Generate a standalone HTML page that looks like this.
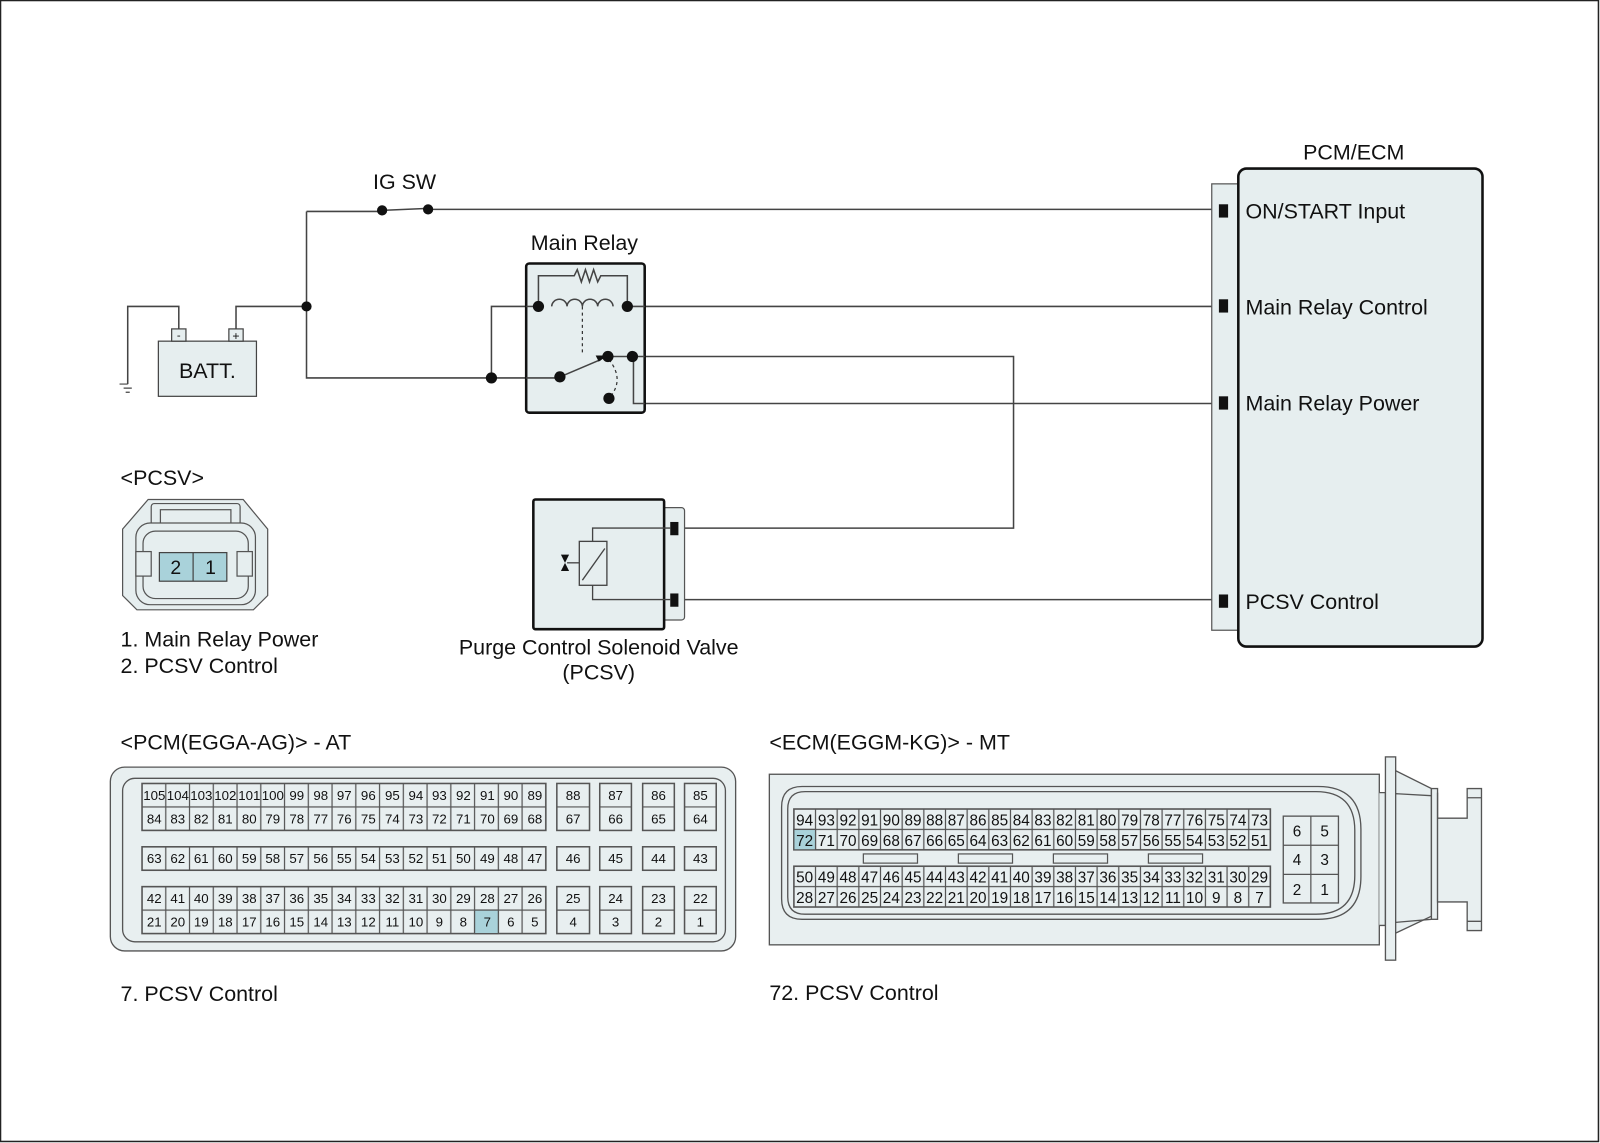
<!DOCTYPE html>
<html><head><meta charset="utf-8"><style>
html,body{margin:0;padding:0;background:#fff;}
svg{display:block;}
text{font-family:"Liberation Sans",sans-serif;fill:#111;}
.g text{font-size:13px;text-anchor:middle;}
.e text{font-size:15px;text-anchor:middle;}
</style></head><body>
<svg width="1600" height="1143" viewBox="0 0 1566 1119" preserveAspectRatio="none" xmlns="http://www.w3.org/2000/svg">
<defs>
<pattern id="p1" x="139" y="767" width="23.25" height="23" patternUnits="userSpaceOnUse"><rect x="0" y="0" width="23.25" height="23" fill="#e8eff0" stroke="#555" stroke-width="1.2"/></pattern>
<pattern id="p1b" x="139" y="829" width="23.25" height="23" patternUnits="userSpaceOnUse"><rect x="0" y="0" width="23.25" height="23" fill="#e8eff0" stroke="#555" stroke-width="1.2"/></pattern>
<pattern id="p1c" x="139" y="868" width="23.25" height="23" patternUnits="userSpaceOnUse"><rect x="0" y="0" width="23.25" height="23" fill="#e8eff0" stroke="#555" stroke-width="1.2"/></pattern>
<pattern id="p2" x="777" y="792" width="21.2" height="20" patternUnits="userSpaceOnUse"><rect x="0" y="0" width="21.2" height="20" fill="#e8eff0" stroke="#555" stroke-width="1.2"/></pattern>
<pattern id="p2b" x="777" y="848" width="21.2" height="20" patternUnits="userSpaceOnUse"><rect x="0" y="0" width="21.2" height="20" fill="#e8eff0" stroke="#555" stroke-width="1.2"/></pattern>
</defs>
<rect x="0.5" y="0.5" width="1564" height="1117" fill="#fff" stroke="#222" stroke-width="1.5"/>

<!-- wires -->
<g stroke="#444" stroke-width="1.5" fill="none">
<path d="M125 376 V300 H175 V322"/>
<path d="M231 322 V300 H300"/>
<path d="M300 207 V370 H548"/>
<path d="M300 207 H374"/>
<path d="M374 206 L419 204"/>
<path d="M419 205 H1198"/>
<path d="M481 370 V300 H614"/>
<path d="M614 300 H1198"/>
<path d="M595 349 H992 V517 H660"/>
<path d="M620 349 V395 H1198"/>
<path d="M664 587 H1198"/>
</g>
<path d="M125 376 h-8 M121 380 h8 M123 384 h4" stroke="#444" stroke-width="1.2"/>

<!-- relay box -->
<rect x="515" y="258" width="116" height="146" rx="3" fill="#e6eeef" stroke="#111" stroke-width="2.5"/>
<g stroke="#444" stroke-width="1.5" fill="none">
<path d="M527 300 V270 H562 l3 -6 l4 12 l4 -12 l4 12 l4 -12 l4 12 l3 -6 H614 V300"/>
<path d="M540 300 a7.5 7 0 0 1 15 0 a7.5 7 0 0 1 15 0 a7.5 7 0 0 1 15 0 a7.5 7 0 0 1 15 0"/>
<path d="M515 300 H527"/><path d="M614 300 H631"/>
<path d="M515 370 H548"/><path d="M548 369 L588 352"/>
<path d="M595 349 H631"/><path d="M620 349 V395 H631"/>
</g>
<path d="M570 300 V345" stroke="#333" stroke-width="1.2" stroke-dasharray="3,3" fill="none"/>
<path d="M596 352 Q612 372 596 390" stroke="#333" stroke-width="1.2" stroke-dasharray="3,3" fill="none"/>
<path d="M583 348 l12 0 l-9 6 z" fill="#111"/>
<g fill="#111">
<circle cx="300" cy="300" r="5"/><circle cx="374" cy="206" r="5"/><circle cx="419" cy="205" r="5"/>
<circle cx="481" cy="370" r="5.5"/><circle cx="548" cy="369" r="5.5"/><circle cx="527" cy="300" r="5.5"/><circle cx="614" cy="300" r="5.5"/>
<circle cx="595" cy="349" r="5.5"/><circle cx="619" cy="349" r="5.5"/><circle cx="596" cy="390" r="5.5"/>
</g>

<!-- battery -->
<rect x="155" y="334" width="96" height="54" fill="#e6eeef" stroke="#444" stroke-width="1.2"/>
<rect x="168" y="322" width="14" height="12" fill="#e6eeef" stroke="#444" stroke-width="1.2"/>
<rect x="224" y="322" width="14" height="12" fill="#e6eeef" stroke="#444" stroke-width="1.2"/>
<text x="175" y="332" font-size="11" text-anchor="middle">-</text>
<text x="231" y="333" font-size="12" text-anchor="middle">+</text>
<text x="203" y="370" font-size="21" text-anchor="middle">BATT.</text>

<text x="396" y="185" font-size="21" text-anchor="middle">IG SW</text>
<text x="572" y="245" font-size="21" text-anchor="middle">Main Relay</text>

<!-- PCM/ECM -->
<rect x="1186" y="180" width="30" height="437" fill="#e6eeef" stroke="#555" stroke-width="1.2"/>
<rect x="1212" y="165" width="239" height="468" rx="8" fill="#e6eeef" stroke="#111" stroke-width="2.5"/>
<g fill="#111"><rect x="1193" y="200" width="9" height="13"/><rect x="1193" y="293" width="9" height="13"/><rect x="1193" y="388" width="9" height="13"/><rect x="1193" y="582" width="9" height="13"/></g>
<text x="1325" y="156" font-size="21" text-anchor="middle">PCM/ECM</text>
<g font-size="21"><text x="1219" y="214">ON/START Input</text><text x="1219" y="308">Main Relay Control</text><text x="1219" y="402">Main Relay Power</text><text x="1219" y="596">PCSV Control</text></g>

<!-- PCSV valve -->
<rect x="646" y="497" width="24" height="110" rx="3" fill="#e6eeef" stroke="#555" stroke-width="1.2"/>
<rect x="522" y="489" width="128" height="127" rx="2" fill="#e6eeef" stroke="#111" stroke-width="2.5"/>
<g fill="#111"><rect x="656" y="511" width="8" height="13"/><rect x="656" y="581" width="8" height="13"/></g>
<g stroke="#444" stroke-width="1.3" fill="none">
<path d="M656 517 H580 V530"/><path d="M580 573 V587 H656"/>
<rect x="567" y="530" width="27" height="43" fill="#e6eeef"/><path d="M570 568 L592 537"/><path d="M555 551 H567"/>
</g>
<path d="M549 543 h8 l-4 8 z M549 559 h8 l-4 -8 z" fill="#111"/>
<text x="586" y="641" font-size="21" text-anchor="middle">Purge Control Solenoid Valve</text>
<text x="586" y="665" font-size="21" text-anchor="middle">(PCSV)</text>

<!-- PCSV connector -->
<text x="118" y="475" font-size="21">&lt;PCSV&gt;</text>
<path d="M145 489 H238 L262 518 V583 L248 597 H134 L120 583 V518 Z" fill="#e6eeef" stroke="#555" stroke-width="1.2"/>
<rect x="148" y="493" width="87" height="22" rx="3" fill="#e6eeef" stroke="#555" stroke-width="1.2"/>
<rect x="157" y="499" width="69" height="16" fill="#e6eeef" stroke="#555" stroke-width="1.2"/>
<rect x="133" y="512" width="117" height="80" rx="14" fill="#e6eeef" stroke="#555" stroke-width="1.2"/>
<rect x="140" y="520" width="103" height="66" rx="12" fill="#e6eeef" stroke="#555" stroke-width="1.2"/>
<rect x="133" y="540" width="15" height="24" fill="#e6eeef" stroke="#555" stroke-width="1.2"/>
<rect x="232" y="540" width="15" height="24" fill="#e6eeef" stroke="#555" stroke-width="1.2"/>
<rect x="156" y="541" width="66" height="28" fill="#a9d2da" stroke="#444" stroke-width="1.2"/>
<path d="M189 541 V569" stroke="#444" stroke-width="1.2"/>
<text x="172" y="562" font-size="19" text-anchor="middle">2</text><text x="206" y="562" font-size="19" text-anchor="middle">1</text>
<text x="118" y="633" font-size="21">1. Main Relay Power</text>
<text x="118" y="659" font-size="21">2. PCSV Control</text>

<!-- PCM connector -->
<text x="118" y="734" font-size="21">&lt;PCM(EGGA-AG)&gt; - AT</text>
<rect x="108" y="751" width="612" height="180" rx="14" fill="#e8eff0" stroke="#555" stroke-width="1.3"/>
<rect x="120" y="762" width="590" height="160" rx="12" fill="#e8eff0" stroke="#555" stroke-width="1.3"/>
<rect x="139" y="767" width="395.25" height="46" fill="url(#p1)" stroke="#555" stroke-width="1.5"/>
<rect x="139" y="829" width="395.25" height="23" fill="url(#p1b)" stroke="#555" stroke-width="1.5"/>
<rect x="139" y="868" width="395.25" height="46" fill="url(#p1c)" stroke="#555" stroke-width="1.5"/>
<rect x="464.5" y="891" width="23.25" height="23" fill="#a9d2da" stroke="#555" stroke-width="1.2"/>
<g fill="#e8eff0" stroke="#555" stroke-width="1.5">
<rect x="545" y="767" width="32" height="46"/><rect x="587" y="767" width="31" height="46"/><rect x="629" y="767" width="31" height="46"/><rect x="670" y="767" width="31" height="46"/>
<rect x="545" y="829" width="32" height="23"/><rect x="587" y="829" width="31" height="23"/><rect x="629" y="829" width="31" height="23"/><rect x="670" y="829" width="31" height="23"/>
<rect x="545" y="868" width="32" height="46"/><rect x="587" y="868" width="31" height="46"/><rect x="629" y="868" width="31" height="46"/><rect x="670" y="868" width="31" height="46"/>
</g>
<path d="M545 790H577M587 790H618M629 790H660M670 790H701M545 891H577M587 891H618M629 891H660M670 891H701" stroke="#555" stroke-width="1.2"/>
<g class="g">
<text x="151" y="783" font-size="11">105</text><text x="174" y="783" font-size="11">104</text><text x="197" y="783" font-size="11">103</text><text x="220.5" y="783" font-size="11">102</text><text x="244" y="783" font-size="11">101</text><text x="267" y="783" font-size="11">100</text>
<text x="290.5" y="783">99</text><text x="314" y="783">98</text><text x="337" y="783">97</text><text x="360.5" y="783">96</text><text x="384" y="783">95</text><text x="407" y="783">94</text><text x="430" y="783">93</text><text x="453.5" y="783">92</text><text x="477" y="783">91</text><text x="500" y="783">90</text><text x="523.5" y="783">89</text>
<text x="151" y="806">84</text><text x="174" y="806">83</text><text x="197" y="806">82</text><text x="220.5" y="806">81</text><text x="244" y="806">80</text><text x="267" y="806">79</text><text x="290.5" y="806">78</text><text x="314" y="806">77</text><text x="337" y="806">76</text><text x="360.5" y="806">75</text><text x="384" y="806">74</text><text x="407" y="806">73</text><text x="430" y="806">72</text><text x="453.5" y="806">71</text><text x="477" y="806">70</text><text x="500" y="806">69</text><text x="523.5" y="806">68</text>
<text x="151" y="845">63</text><text x="174" y="845">62</text><text x="197" y="845">61</text><text x="220.5" y="845">60</text><text x="244" y="845">59</text><text x="267" y="845">58</text><text x="290.5" y="845">57</text><text x="314" y="845">56</text><text x="337" y="845">55</text><text x="360.5" y="845">54</text><text x="384" y="845">53</text><text x="407" y="845">52</text><text x="430" y="845">51</text><text x="453.5" y="845">50</text><text x="477" y="845">49</text><text x="500" y="845">48</text><text x="523.5" y="845">47</text>
<text x="151" y="884">42</text><text x="174" y="884">41</text><text x="197" y="884">40</text><text x="220.5" y="884">39</text><text x="244" y="884">38</text><text x="267" y="884">37</text><text x="290.5" y="884">36</text><text x="314" y="884">35</text><text x="337" y="884">34</text><text x="360.5" y="884">33</text><text x="384" y="884">32</text><text x="407" y="884">31</text><text x="430" y="884">30</text><text x="453.5" y="884">29</text><text x="477" y="884">28</text><text x="500" y="884">27</text><text x="523.5" y="884">26</text>
<text x="151" y="907">21</text><text x="174" y="907">20</text><text x="197" y="907">19</text><text x="220.5" y="907">18</text><text x="244" y="907">17</text><text x="267" y="907">16</text><text x="290.5" y="907">15</text><text x="314" y="907">14</text><text x="337" y="907">13</text><text x="360.5" y="907">12</text><text x="384" y="907">11</text><text x="407" y="907">10</text><text x="430" y="907">9</text><text x="453.5" y="907">8</text><text x="477" y="907">7</text><text x="500" y="907">6</text><text x="523.5" y="907">5</text>
<text x="561" y="783">88</text><text x="602.5" y="783">87</text><text x="644.5" y="783">86</text><text x="685.5" y="783">85</text>
<text x="561" y="806">67</text><text x="602.5" y="806">66</text><text x="644.5" y="806">65</text><text x="685.5" y="806">64</text>
<text x="561" y="845">46</text><text x="602.5" y="845">45</text><text x="644.5" y="845">44</text><text x="685.5" y="845">43</text>
<text x="561" y="884">25</text><text x="602.5" y="884">24</text><text x="644.5" y="884">23</text><text x="685.5" y="884">22</text>
<text x="561" y="907">4</text><text x="602.5" y="907">3</text><text x="644.5" y="907">2</text><text x="685.5" y="907">1</text>
</g>
<text x="118" y="980" font-size="21">7. PCSV Control</text>

<!-- ECM connector -->
<text x="753" y="734" font-size="21">&lt;ECM(EGGM-KG)&gt; - MT</text>
<rect x="753" y="758" width="597" height="167" fill="#e8eff0" stroke="#555" stroke-width="1.3"/>
<path d="M785 770 H1290 Q1332 770 1332 812 V858 Q1332 900 1290 900 H785 Q765 900 765 880 V790 Q765 770 785 770 Z" fill="#e8eff0" stroke="#555" stroke-width="1.3"/>
<path d="M788 775 H1288 Q1326 775 1326 813 V857 Q1326 895 1288 895 H788 Q771 895 771 878 V792 Q771 775 788 775 Z" fill="none" stroke="#555" stroke-width="1.3"/>
<rect x="777" y="792" width="466.4" height="40" fill="url(#p2)" stroke="#555" stroke-width="1.5"/>
<rect x="777" y="848" width="466.4" height="40" fill="url(#p2b)" stroke="#555" stroke-width="1.5"/>
<rect x="777" y="812" width="21.2" height="20" fill="#a9d2da" stroke="#555" stroke-width="1.2"/>
<g fill="#e8eff0" stroke="#555" stroke-width="1.2"><rect x="845" y="836" width="53" height="9"/><rect x="938" y="836" width="53" height="9"/><rect x="1031" y="836" width="53" height="9"/><rect x="1124" y="836" width="53" height="9"/></g>
<rect x="1256" y="799" width="54" height="85" fill="#e8eff0" stroke="#555" stroke-width="1.3"/>
<path d="M1283 799V884M1256 827.5H1310M1256 856H1310" stroke="#555" stroke-width="1.2"/>
<g class="e">
<text x="787.6" y="808">94</text><text x="808.8" y="808">93</text><text x="830" y="808">92</text><text x="851.2" y="808">91</text><text x="872.4" y="808">90</text><text x="893.6" y="808">89</text><text x="914.8" y="808">88</text><text x="936" y="808">87</text><text x="957.2" y="808">86</text><text x="978.4" y="808">85</text><text x="999.6" y="808">84</text><text x="1020.8" y="808">83</text><text x="1042" y="808">82</text><text x="1063.2" y="808">81</text><text x="1084.4" y="808">80</text><text x="1105.6" y="808">79</text><text x="1126.8" y="808">78</text><text x="1148" y="808">77</text><text x="1169.2" y="808">76</text><text x="1190.4" y="808">75</text><text x="1211.6" y="808">74</text><text x="1232.8" y="808">73</text>
<text x="787.6" y="828">72</text><text x="808.8" y="828">71</text><text x="830" y="828">70</text><text x="851.2" y="828">69</text><text x="872.4" y="828">68</text><text x="893.6" y="828">67</text><text x="914.8" y="828">66</text><text x="936" y="828">65</text><text x="957.2" y="828">64</text><text x="978.4" y="828">63</text><text x="999.6" y="828">62</text><text x="1020.8" y="828">61</text><text x="1042" y="828">60</text><text x="1063.2" y="828">59</text><text x="1084.4" y="828">58</text><text x="1105.6" y="828">57</text><text x="1126.8" y="828">56</text><text x="1148" y="828">55</text><text x="1169.2" y="828">54</text><text x="1190.4" y="828">53</text><text x="1211.6" y="828">52</text><text x="1232.8" y="828">51</text>
<text x="787.6" y="864">50</text><text x="808.8" y="864">49</text><text x="830" y="864">48</text><text x="851.2" y="864">47</text><text x="872.4" y="864">46</text><text x="893.6" y="864">45</text><text x="914.8" y="864">44</text><text x="936" y="864">43</text><text x="957.2" y="864">42</text><text x="978.4" y="864">41</text><text x="999.6" y="864">40</text><text x="1020.8" y="864">39</text><text x="1042" y="864">38</text><text x="1063.2" y="864">37</text><text x="1084.4" y="864">36</text><text x="1105.6" y="864">35</text><text x="1126.8" y="864">34</text><text x="1148" y="864">33</text><text x="1169.2" y="864">32</text><text x="1190.4" y="864">31</text><text x="1211.6" y="864">30</text><text x="1232.8" y="864">29</text>
<text x="787.6" y="884">28</text><text x="808.8" y="884">27</text><text x="830" y="884">26</text><text x="851.2" y="884">25</text><text x="872.4" y="884">24</text><text x="893.6" y="884">23</text><text x="914.8" y="884">22</text><text x="936" y="884">21</text><text x="957.2" y="884">20</text><text x="978.4" y="884">19</text><text x="999.6" y="884">18</text><text x="1020.8" y="884">17</text><text x="1042" y="884">16</text><text x="1063.2" y="884">15</text><text x="1084.4" y="884">14</text><text x="1105.6" y="884">13</text><text x="1126.8" y="884">12</text><text x="1148" y="884">11</text><text x="1169.2" y="884">10</text><text x="1190.4" y="884">9</text><text x="1211.6" y="884">8</text><text x="1232.8" y="884">7</text>
<text x="1269.5" y="819">6</text><text x="1296.5" y="819">5</text><text x="1269.5" y="847">4</text><text x="1296.5" y="847">3</text><text x="1269.5" y="876">2</text><text x="1296.5" y="876">1</text>
</g>
<!-- plug -->
<g fill="#e8eff0" stroke="#555" stroke-width="1.3">
<path d="M1350 776 H1356 V906 H1350"/>
<path d="M1365 754 L1401 772 V897 L1365 914 Z"/>
<rect x="1356" y="741" width="10" height="199"/>
<path d="M1366 777 L1401 779 M1366 903 L1401 900" fill="none"/>
<rect x="1401" y="772" width="6" height="128"/>
<path d="M1407 776 V801 H1436 V772 H1450 V911 H1436 V883 H1407 Z"/>
<path d="M1436 781 H1450 M1436 902 H1450" fill="none"/>
</g>
<text x="753" y="979" font-size="21">72. PCSV Control</text>
</svg>
</body></html>
